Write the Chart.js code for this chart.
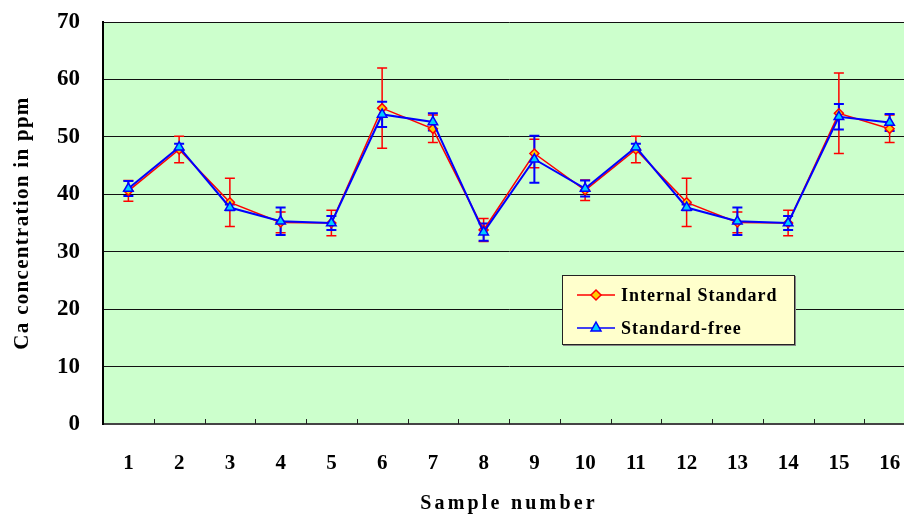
<!DOCTYPE html>
<html lang="en">
<head>
    <meta charset="UTF-8">
    <title>Ca concentration by sample</title>
    <script src="https://cdn.jsdelivr.net/npm/chart.js"></script>
    <style>
        body {
            margin: 0;
            background: white;
            overflow: hidden;
        }
        /* the original plot runs a little past the right edge of the picture */
        .wrap {
            position: relative;
            width: 904px;
            height: 516px;
            overflow: hidden;
        }
        .legend {
            position: absolute;
            left: 562px;
            top: 275px;
            width: 231px;
            height: 68px;
            background: #FFFFCC;
            border: 1px solid #222;
            box-shadow: 1px 1px 0 #888;
            font-family: 'Liberation Serif', serif;
            font-weight: bold;
            font-size: 18px;
            letter-spacing: 1px;
        }
        .legend-item {
            position: absolute;
            left: 14px;
            display: flex;
            align-items: center;
            height: 20px;
        }
        .legend-item svg {
            margin-right: 6px;
        }
    </style>
</head>
<body>
    <div class="wrap">
        <canvas id="caChart" width="915" height="516"></canvas>
        <div class="legend" id="legend"></div>
    </div>

    <script>
        const samples = ['1', '2', '3', '4', '5', '6', '7', '8', '9', '10', '11', '12', '13', '14', '15', '16'];
        const internalStd = [40.6, 47.8, 38.6, 35.1, 35.0, 55.0, 51.4, 33.8, 47.1, 40.7, 47.8, 38.6, 35.1, 35.0, 54.1, 51.4];
        const internalErr = [1.8, 2.3, 4.2, 1.8, 2.2, 7.0, 2.4, 2.0, 2.5, 1.8, 2.3, 4.2, 1.8, 2.2, 7.0, 2.4];
        const standardFree = [41.0, 48.2, 37.7, 35.3, 35.0, 53.9, 52.6, 33.4, 46.1, 41.0, 48.2, 37.7, 35.3, 35.0, 53.5, 52.5];
        const standardFreeErr = [1.3, 0.6, 0.5, 2.4, 1.2, 2.2, 1.5, 1.5, 4.1, 1.4, 0.6, 0.5, 2.4, 1.2, 2.2, 1.5];

        const serif = "'Liberation Serif', 'Times New Roman', serif";

        // the original titles are stretched wide, so space the letters a bit
        function spacedTitle(scale, spacing) {
            if (scale._spaced) return;
            const orig = scale.drawTitle;
            scale.drawTitle = function () {
                this.ctx.letterSpacing = spacing;
                orig.call(this);
                this.ctx.letterSpacing = '0px';
            };
            scale._spaced = true;
        }

        // green plot background + inner tick marks on the x axis
        const plotArea = {
            id: 'plotArea',
            beforeDraw(chart) {
                const { ctx, chartArea: a } = chart;
                ctx.save();
                ctx.fillStyle = '#CCFFCC';
                ctx.fillRect(a.left, a.top, a.right - a.left, a.bottom - a.top);
                ctx.restore();
            },
            afterDraw(chart) {
                const { ctx, chartArea: a } = chart;
                const x = chart.scales.x;
                ctx.save();
                ctx.strokeStyle = '#222';
                ctx.lineWidth = 1;
                for (let i = 0; i < samples.length - 1; i++) {
                    const px = Math.round((x.getPixelForValue(i) + x.getPixelForValue(i + 1)) / 2) + 0.5;
                    ctx.beginPath();
                    ctx.moveTo(px, a.bottom);
                    ctx.lineTo(px, a.bottom - 5);
                    ctx.stroke();
                }
                ctx.restore();
            }
        };

        // error bars, drawn under the lines
        const errorBars = {
            id: 'errorBars',
            beforeDatasetsDraw(chart) {
                const { ctx } = chart;
                const x = chart.scales.x, y = chart.scales.y;
                ctx.save();
                chart.data.datasets.forEach(ds => {
                    ctx.strokeStyle = ds.borderColor;
                    ctx.lineWidth = ds.errWidth;
                    ds.data.forEach((v, i) => {
                        const e = ds.errors[i];
                        const px = x.getPixelForValue(i);
                        const top = y.getPixelForValue(v + e);
                        const bot = y.getPixelForValue(v - e);
                        ctx.beginPath();
                        ctx.moveTo(px, top);
                        ctx.lineTo(px, bot);
                        ctx.moveTo(px - 5, top);
                        ctx.lineTo(px + 5, top);
                        ctx.moveTo(px - 5, bot);
                        ctx.lineTo(px + 5, bot);
                        ctx.stroke();
                    });
                });
                ctx.restore();
            }
        };

        const ctx = document.getElementById('caChart').getContext('2d');
        const chart = new Chart(ctx, {
            type: 'line',
            data: {
                labels: samples,
                datasets: [
                    {
                        label: 'Internal Standard',
                        data: internalStd,
                        errors: internalErr,
                        errWidth: 1.5,
                        borderColor: '#FF0000',
                        backgroundColor: '#FFCC00',
                        borderWidth: 1.5,
                        pointStyle: 'rectRot',
                        pointRadius: 4.5,
                        pointBorderWidth: 1.5,
                        order: 2
                    },
                    {
                        label: 'Standard-free',
                        data: standardFree,
                        errors: standardFreeErr,
                        errWidth: 2,
                        borderColor: '#0000FF',
                        backgroundColor: '#00CCFF',
                        borderWidth: 2,
                        pointStyle: 'triangle',
                        pointRadius: 5.5,
                        pointBorderWidth: 1.5,
                        order: 1
                    }
                ]
            },
            options: {
                responsive: false,
                animation: false,
                layout: {
                    autoPadding: false,
                    padding: { top: 22, right: 0, left: 0, bottom: 0 }
                },
                plugins: {
                    legend: { display: false },
                    tooltip: { enabled: false }
                },
                scales: {
                    x: {
                        offset: true,
                        afterFit: s => {
                            s.height = 92;
                            s.paddingLeft = 0;
                            s.paddingRight = 0;
                            spacedTitle(s, '3.2px');
                        },
                        // invisible tick marks only give the labels their gap
                        grid: {
                            display: true,
                            drawOnChartArea: false,
                            drawTicks: true,
                            tickLength: 27,
                            tickColor: 'rgba(0,0,0,0)'
                        },
                        border: { color: '#444', width: 2 },
                        ticks: {
                            color: 'black',
                            padding: 0,
                            maxRotation: 0,
                            font: { family: serif, size: 21, weight: 'bold' }
                        },
                        title: {
                            display: true,
                            text: 'Sample number',
                            color: 'black',
                            padding: { top: 0, bottom: 0 },
                            font: { family: serif, size: 20, weight: 'bold' }
                        }
                    },
                    y: {
                        min: 0,
                        max: 70,
                        afterFit: s => {
                            s.width = 103;
                            s.paddingTop = 0;
                            s.paddingBottom = 0;
                            spacedTitle(s, '1.3px');
                        },
                        grid: { color: '#111', lineWidth: 1, drawTicks: false },
                        border: { color: 'black', width: 2 },
                        ticks: {
                            stepSize: 10,
                            color: 'black',
                            padding: 23,
                            font: { family: serif, size: 23, weight: 'bold' }
                        },
                        title: {
                            display: true,
                            text: 'Ca concentration in ppm',
                            color: 'black',
                            padding: { bottom: 0, top: 10 },
                            font: { family: serif, size: 21, weight: 'bold' }
                        }
                    }
                }
            },
            plugins: [plotArea, errorBars]
        });

        // legend in the plot, like the original
        const legend = document.getElementById('legend');
        const rows = [
            { ds: chart.data.datasets[0], top: 9 },
            { ds: chart.data.datasets[1], top: 42 }
        ];
        rows.forEach(r => {
            const item = document.createElement('div');
            item.className = 'legend-item';
            item.style.top = r.top + 'px';
            const marker = r.ds.pointStyle === 'rectRot'
                ? '<polygon points="19,5 24,10 19,15 14,10" fill="' + r.ds.backgroundColor + '" stroke="' + r.ds.borderColor + '" stroke-width="1.5"/>'
                : '<polygon points="19,4 24,13 14,13" fill="' + r.ds.backgroundColor + '" stroke="' + r.ds.borderColor + '" stroke-width="1.5"/>';
            item.innerHTML = '<svg width="38" height="20"><line x1="0" y1="10" x2="38" y2="10" stroke="' +
                r.ds.borderColor + '" stroke-width="1.5"/>' + marker + '</svg><span>' + r.ds.label + '</span>';
            legend.appendChild(item);
        });
    </script>
</body>
</html>
